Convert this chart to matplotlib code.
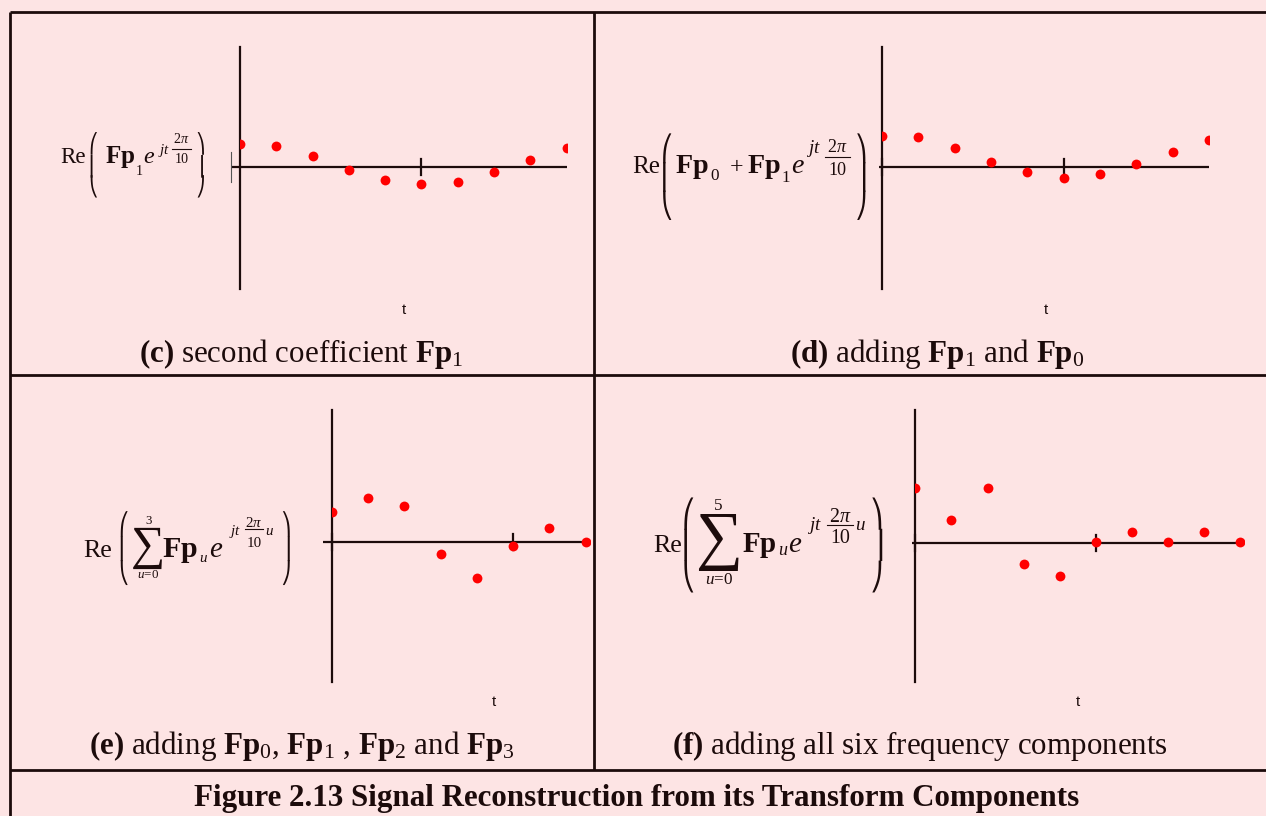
"""
Figure 2.13 -- signal reconstruction from its transform components.

Four Mathcad-style panels: red samples on a bare pair of axes, the
formula written on the left, and a caption strip under each panel.
"""
import matplotlib
matplotlib.use("Agg")
import matplotlib.pyplot as plt

W, H = 1266, 816
BG = "#FDE4E4"
INK = "#1C0B0B"
DOT = "#FF0000"
SERIF = ["Liberation Serif", "DejaVu Serif"]
BRACE = ["STIXGeneral", "DejaVu Sans"]

plt.rcParams["mathtext.fontset"] = "custom"
plt.rcParams["mathtext.rm"] = "Liberation Serif"
plt.rcParams["mathtext.it"] = "Liberation Serif:italic"
plt.rcParams["mathtext.bf"] = "Liberation Serif:bold"

# samples, 1 unit = 10 px above the t axis
t_c = [0, 1, 2, 3, 4, 5, 6, 7, 8, 9]
re_fp1 = [2.27, 2.10, 1.10, -0.33, -1.33, -1.70, -1.53, -0.53, 0.67, 1.90]

t_d = [0, 1, 2, 3, 4, 5, 6, 7, 8, 9]
re_fp0_fp1 = [3.10, 2.94, 1.90, 0.50, -0.50, -1.10, -0.70, 0.30, 1.50, 2.70]

t_e = [0, 1, 2, 3, 4, 5, 6, 7]          # t = 8, 9 fall outside the panel
re_sum3 = [3.03, 4.43, 3.63, -1.14, -3.54, -0.37, 1.43, 0.03]

t_f = [0, 1, 2, 3, 4, 5, 6, 7, 8, 9]
re_sum5 = [5.47, 2.27, 5.47, -2.13, -3.33, 0.07, 1.07, 0.07, 1.07, 0.07]

captions = [
    r"$\mathbf{(c)}$ second coefficient $\mathbf{Fp}_1$",
    r"$\mathbf{(d)}$ adding $\mathbf{Fp}_1$ and $\mathbf{Fp}_0$",
    r"$\mathbf{(e)}$ adding $\mathbf{Fp}_0$, $\mathbf{Fp}_1$ , $\mathbf{Fp}_2$ and $\mathbf{Fp}_3$",
    r"$\mathbf{(f)}$ adding all six frequency components",
]
title = "Figure 2.13 Signal Reconstruction from its Transform Components"

fig = plt.figure(figsize=(W / 100, H / 100), dpi=100, facecolor=BG)
renderer = fig.canvas.get_renderer()
bg = fig.add_axes([0, 0, 1, 1])
bg.set_xlim(0, W)
bg.set_ylim(H, 0)
bg.axis("off")


def put(x, y, s, size, **kw):
    """Text at pixel position (y down); size given in pixels."""
    kw.setdefault("family", SERIF)
    kw.setdefault("va", "baseline")
    kw.setdefault("ha", "left")
    return bg.text(x, y, s, fontsize=size * 0.72, color=INK, **kw)


def frac(xc, y_line, x0, x1, num, den, size, num_base, den_base):
    put(xc, num_base, num, size, ha="center")
    put(xc, den_base, den, size, ha="center")
    bg.plot([x0, x1], [y_line, y_line], color=INK, lw=0.8)


def paren(x, top, bottom, left=True):
    # tall bracket built from the hook/extension pieces, sized to fit
    s = "\u239b\n\u239c\n\u239d" if left else "\u239e\n\u239f\n\u23a0"
    txt = put(x, top, s, 20, family=BRACE, va="top", linespacing=0.95)
    h = txt.get_window_extent(renderer).height
    txt.set_fontsize(20 * 0.72 * (bottom - top) / h)


def panel(t, vals, left, right, top, bottom, y_zero, t_max, x_start, ticks):
    ax = fig.add_axes([left / W, 1 - bottom / H, (right - left) / W, (bottom - top) / H])
    ax.set_xlim(0, t_max)
    ax.set_ylim((y_zero - bottom) / 10, (y_zero - top) / 10)
    ax.axis("off")
    ax.patch.set_alpha(0)
    ax.plot([x_start, t_max], [0, 0], color=INK, lw=1.6, clip_on=False,
            solid_capstyle="butt")
    ax.axvline(0, color=INK, lw=1.6, clip_on=False)
    for tk in ticks:
        ax.plot([tk, tk], [-0.8, 0.8], color=INK, lw=1.6, clip_on=False)
    ax.scatter(t, vals, s=50, color=DOT, linewidths=0, zorder=3)
    return ax


# frame
for xs, ys in [([10, W], [12, 12]), ([10, 10], [12, H]), ([594, 594], [12, 770]),
               ([10, W], [375, 375]), ([10, W], [770, 770])]:
    bg.plot(xs, ys, color=INK, lw=2.0, solid_capstyle="butt")

# panels
ax_c = panel(t_c, re_fp1, 240, 566.7, 47, 289, 166.7, 9, -0.25, [5])
ax_c.plot([-0.25, -0.25], [-1.5, 1.5], color="#555555", lw=0.8, clip_on=False)
panel(t_d, re_fp0_fp1, 882, 1209, 47, 289, 166.7, 9, -0.08, [0, 5])
panel(t_e, re_sum3, 331.7, 590, 410, 682, 542.3, 7.12, -0.24, [0, 5])
panel(t_f, re_sum5, 915.3, 1244, 410, 682, 542.7, 9.1, -0.09, [0, 5])

for x, y in [(404, 310), (1046, 310), (494, 702), (1078, 702)]:
    put(x, y, "t", 15, family=["Liberation Sans"], ha="center", va="center")

# (c) Re( Fp1 e^{jt 2pi/10} )
put(60, 163, "Re", 23)
paren(88, 132, 199)
put(105, 163, r"$\mathbf{Fp}$", 25)
put(136, 175, "1", 14)
put(143, 163, r"$e$", 24)
put(158, 154, r"$jt$", 15)
frac(181.5, 149, 172, 191, r"2$\pi$", "10", 14, 143, 163)
paren(195, 132, 199, left=False)

# (d) Re( Fp0 + Fp1 e^{jt 2pi/10} )
put(632, 173, "Re", 25)
paren(661, 133, 220)
put(675, 173, r"$\mathbf{Fp}$", 28)
put(710, 180, "0", 17)
put(736.5, 173, "+", 24, ha="center")
put(747, 173, r"$\mathbf{Fp}$", 28)
put(782, 182, "1", 17)
put(791, 173, r"$e$", 28)
put(806, 153, r"$jt$", 19)
frac(837.5, 157, 825, 850, r"2$\pi$", "10", 18, 152, 175)
paren(855, 133, 220, left=False)

# (e) Re( sum_{u=0}^{3} Fp_u e^{jt 2pi/10 u} )
put(83, 556.7, "Re", 26)
paren(118, 512, 585)
put(147.5, 547, "\u2211", 48, ha="center", va="center")
put(148.5, 521.5, "3", 13, ha="center", va="center")
put(148.5, 575.5, r"$u\!=\!0$", 13, ha="center", va="center")
put(162, 556.7, r"$\mathbf{Fp}$", 30)
put(199, 562, r"$u$", 15)
put(209, 556.7, r"$e$", 29)
put(229, 535, r"$jt$", 15)
frac(254, 529, 245, 263, r"2$\pi$", "10", 15, 527, 547)
put(265, 535, r"$u$", 15)
paren(280, 512, 585, left=False)

# (f) Re( sum_{u=0}^{5} Fp_u e^{jt 2pi/10 u} )
put(653, 551.7, "Re", 26)
paren(682, 498, 593)
put(719, 541.5, "\u2211", 66, ha="center", va="center")
put(718, 505.5, "5", 17, ha="center", va="center")
put(719, 580.5, r"$u\!=\!0$", 17, ha="center", va="center")
put(742, 552, r"$\mathbf{Fp}$", 29)
put(778, 555, r"$u$", 18)
put(788, 552, r"$e$", 29)
put(807, 530, r"$jt$", 19)
frac(840, 525, 827, 853, r"2$\pi$", "10", 20, 522, 543)
put(855, 530, r"$u$", 19)
paren(870, 498, 593, left=False)

# captions and figure title
for (x, y), text in zip([(301, 362), (937, 362), (302, 754), (920, 754)], captions):
    put(x, y, text, 31, ha="center")
put(637, 806, title, 31, ha="center", weight="bold")

fig.savefig("out.png", dpi=100, facecolor=BG)
plt.close(fig)
